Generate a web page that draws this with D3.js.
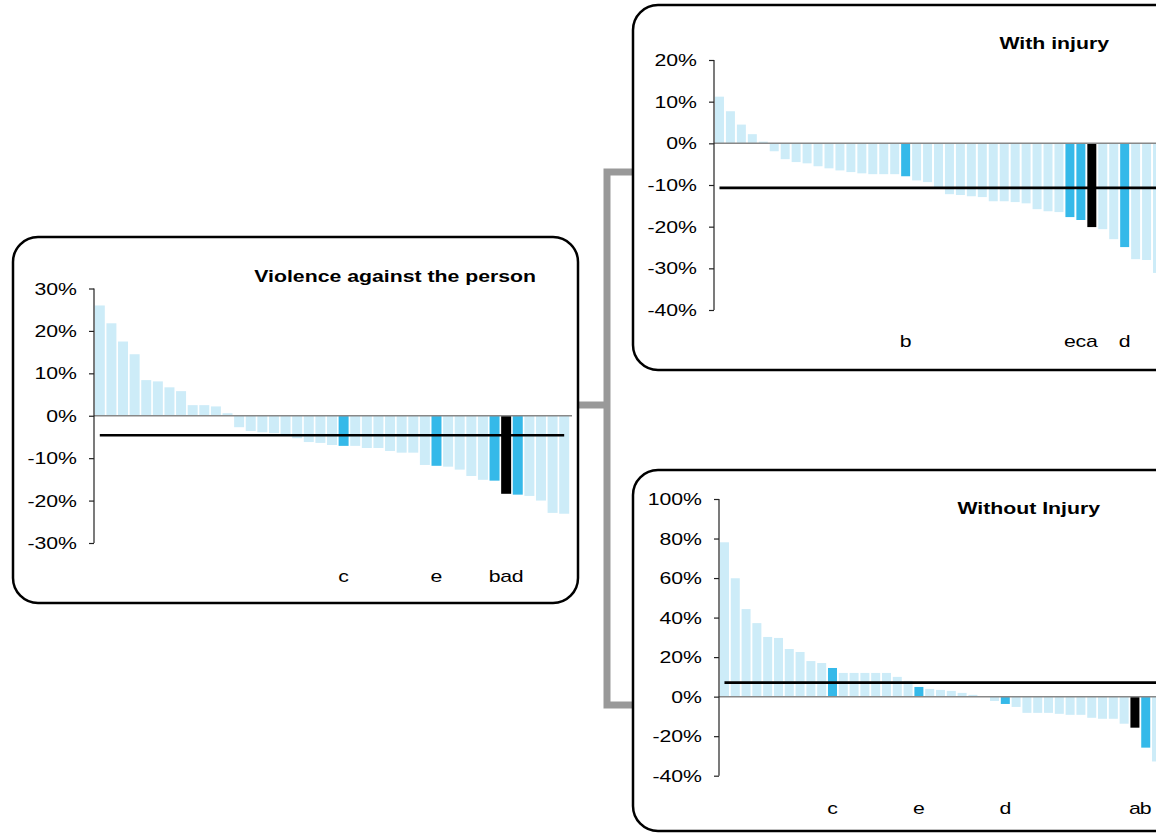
<!DOCTYPE html>
<html>
<head>
<meta charset="utf-8">
<script src="https://cdn.jsdelivr.net/npm/d3@7"></script>
<style>
  html, body { margin: 0; padding: 0; background: #fff; }
  svg { display: block; }
  text { font-family: "Liberation Sans", Arial, sans-serif; fill: #000; }
</style>
</head>
<body>
<svg id="chart" width="1156" height="834"></svg>
<script>
// ---------------- DATA ----------------
const violenceTitle = "Violence against the person";
const violenceValues = [26.0, 21.8, 17.5, 14.5, 8.4, 8.1, 6.7, 5.8, 2.5, 2.5, 2.2, 0.6,
  -2.7, -3.6, -3.9, -4.1, -4.5, -5.3, -6.2, -6.4, -6.9, -7.1, -7.1, -7.6, -7.6, -8.3,
  -8.7, -8.7, -11.6, -11.8, -12.0, -12.7, -14.2, -15.1, -15.3, -18.4, -18.6, -18.9,
  -20.0, -22.9, -23.1];
const violenceMarks = [{i: 21, label: "c"}, {i: 29, label: "e"}, {i: 34, label: "b"},
  {i: 35, label: "a"}, {i: 36, label: "d"}];
const violenceMean = -4.6;
const violenceTicks = [30, 20, 10, 0, -10, -20, -30];

const injuryTitle = "With injury";
const injuryValues = [11.2, 7.7, 4.5, 2.2, 0.4, -1.9, -3.8, -4.5, -4.8, -5.5, -6.0,
  -6.5, -6.9, -7.2, -7.4, -7.4, -7.4, -7.9, -8.9, -9.3, -10.6, -12.2, -12.4, -12.7,
  -12.9, -13.9, -13.9, -14.1, -14.4, -15.8, -16.3, -16.5, -17.7, -18.4, -20.1, -20.6,
  -23.0, -24.9, -27.8, -28.0, -31.1];
const injuryMarks = [{i: 17, label: "b"}, {i: 32, label: "e"}, {i: 33, label: "c"},
  {i: 34, label: "a"}, {i: 37, label: "d"}];
const injuryMean = -10.7;
const injuryTicks = [20, 10, 0, -10, -20, -30, -40];

const noInjuryTitle = "Without Injury";
const noInjuryValues = [78.1, 59.9, 44.3, 37.2, 30.2, 29.7, 24.1, 22.6, 18.0, 17.0,
  14.5, 12.0, 12.0, 12.0, 12.0, 12.0, 10.0, 8.0, 4.9, 3.9, 3.4, 2.9, 1.9, 0.9, 0.2,
  -2.2, -3.7, -5.2, -8.2, -8.2, -8.2, -8.7, -9.2, -9.2, -10.7, -11.2, -11.2, -13.7,
  -15.7, -25.8, -32.8];
const noInjuryMarks = [{i: 10, label: "c"}, {i: 18, label: "e"}, {i: 26, label: "d"},
  {i: 38, label: "a"}, {i: 39, label: "b"}];
const noInjuryMean = 7.1;
const noInjuryTicks = [100, 80, 60, 40, 20, 0, -20, -40];

// ---------------- STYLE ----------------
const LIGHT = "#cdecf8", BLUE = "#35b9e9", BLACK = "#000000";
const FONT_SIZE = 17, STRETCH = 1.25;

const svg = d3.select("#chart");

// connector
const conn = svg.append("g").attr("fill", "none").attr("stroke", "#999").attr("stroke-width", 7)
  .attr("stroke-linejoin", "miter");
conn.append("path").attr("d", "M634,172 H607 V705 H634");
conn.append("path").attr("d", "M578,405 H607");

// panels
function panel(x, y, w, h) {
  svg.append("rect").attr("x", x).attr("y", y).attr("width", w).attr("height", h)
    .attr("rx", 25).attr("ry", 25).attr("fill", "#fff")
    .attr("stroke", "#000").attr("stroke-width", 2.5);
}
panel(13, 237, 565, 366);
panel(633, 5, 620, 365);
panel(633, 470, 620, 361);

function stretchedText(g, x, y, str, opts) {
  const t = g.append("text")
    .attr("transform", `translate(${x},${y}) scale(${STRETCH},1)`)
    .attr("font-size", FONT_SIZE)
    .attr("text-anchor", opts.anchor || "start")
    .text(str);
  if (opts.bold) t.attr("font-weight", "bold");
  if (opts.dy) t.attr("dy", opts.dy);
  return t;
}

function drawChart(cfg) {
  const g = svg.append("g");
  const idx = d3.range(cfg.values.length);
  const x = d3.scaleBand().domain(idx).range(cfg.xRange)
    .paddingInner(cfg.pi).paddingOuter(cfg.po);
  const y = d3.scaleLinear().domain([cfg.ticks[cfg.ticks.length - 1], cfg.ticks[0]])
    .range(cfg.yRange);
  const markMap = new Map(cfg.marks.map(m => [m.i, m.label]));

  // bars
  g.selectAll("rect.bar").data(cfg.values).enter().append("rect")
    .attr("class", "bar")
    .attr("x", (d, i) => x(i))
    .attr("width", x.bandwidth())
    .attr("y", d => y(Math.max(0, d)))
    .attr("height", d => Math.abs(y(d) - y(0)))
    .attr("fill", (d, i) => {
      const l = markMap.get(i);
      if (l === undefined) return LIGHT;
      return l === "a" ? BLACK : BLUE;
    });

  // zero line
  g.append("line").attr("x1", cfg.xRange[0]).attr("x2", cfg.xRange[1] + 2)
    .attr("y1", y(0)).attr("y2", y(0))
    .attr("stroke", "#888").attr("stroke-width", 1.5);

  // mean line
  const n = cfg.values.length;
  g.append("line")
    .attr("x1", x(0) + x.bandwidth() / 2).attr("x2", x(n - 1) + x.bandwidth() / 2)
    .attr("y1", y(cfg.mean)).attr("y2", y(cfg.mean))
    .attr("stroke", "#000").attr("stroke-width", 2.6);

  // y axis
  const axis = d3.axisLeft(y).tickValues(cfg.ticks).tickSize(5).tickFormat(() => "");
  const ag = g.append("g").attr("transform", `translate(${cfg.xRange[0]},0)`).call(axis);
  ag.select(".domain").attr("stroke", "#222").attr("stroke-width", 1.2).attr("d",
    `M0,${y(cfg.ticks[0])}V${y(cfg.ticks[cfg.ticks.length - 1])}`);
  ag.selectAll(".tick line").attr("stroke", "#222").attr("stroke-width", 1.2);
  cfg.ticks.forEach(t => {
    stretchedText(g, cfg.xRange[0] - 17, y(t), t + "%", {anchor: "end", dy: "0.36em"});
  });

  // category letters
  cfg.marks.forEach(m => {
    stretchedText(g, x(m.i) + x.bandwidth() / 2, cfg.letterY, m.label, {anchor: "middle"});
  });

  // title
  stretchedText(g, cfg.titleX, cfg.titleY, cfg.title, {anchor: "end", bold: true});
}

drawChart({
  title: violenceTitle, values: violenceValues, marks: violenceMarks, mean: violenceMean,
  ticks: violenceTicks, xRange: [94, 570], pi: 0.14, po: 0.07, yRange: [543, 288.5],
  letterY: 582, titleX: 536, titleY: 282
});
drawChart({
  title: injuryTitle, values: injuryValues, marks: injuryMarks, mean: injuryMean,
  ticks: injuryTicks, xRange: [714, 1163], pi: 0.18, po: 0.09, yRange: [310, 60],
  letterY: 347, titleX: 1109, titleY: 49
});
drawChart({
  title: noInjuryTitle, values: noInjuryValues, marks: noInjuryMarks, mean: noInjuryMean,
  ticks: noInjuryTicks, xRange: [719, 1162], pi: 0.167, po: 0.09, yRange: [775.7, 499],
  letterY: 814, titleX: 1100, titleY: 514
});
</script>
</body>
</html>
